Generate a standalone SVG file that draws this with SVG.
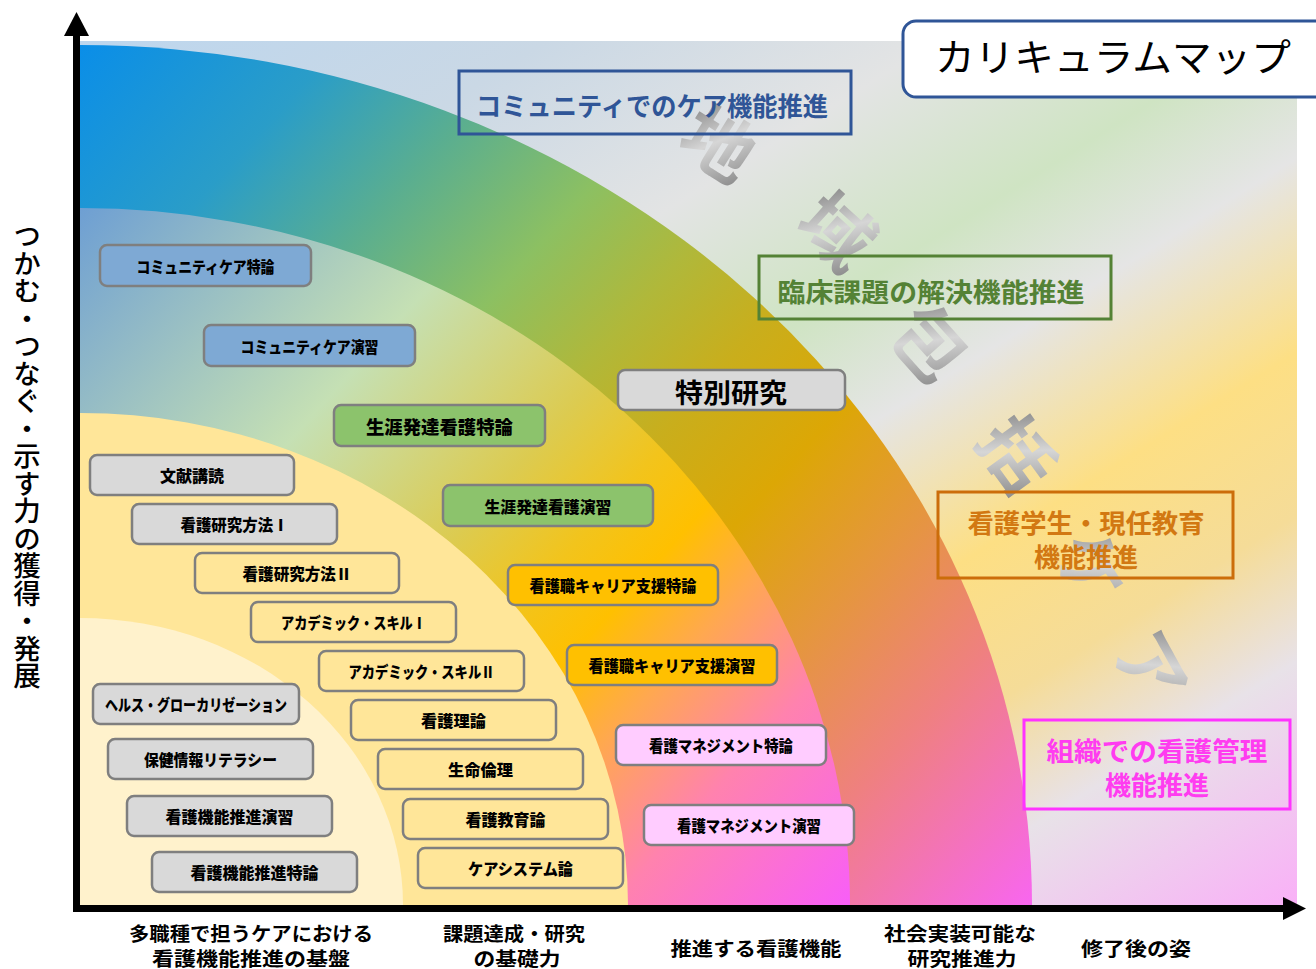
<svg xmlns="http://www.w3.org/2000/svg" width="1316" height="969" viewBox="0 0 1316 969">
<defs>
<linearGradient id="bg" gradientUnits="userSpaceOnUse" x1="80" y1="41" x2="810" y2="1209">
<stop offset="0" stop-color="#bcd6ee"/>
<stop offset="0.18" stop-color="#cad8e5"/>
<stop offset="0.33" stop-color="#e3e4e4"/>
<stop offset="0.45" stop-color="#cfe4c3"/>
<stop offset="0.54" stop-color="#e5e5e5"/>
<stop offset="0.66" stop-color="#fddf84"/>
<stop offset="0.76" stop-color="#f5dc98"/>
<stop offset="0.85" stop-color="#e8e2e8"/>
<stop offset="1" stop-color="#f9b0f7"/>
</linearGradient>
<linearGradient id="bandA" gradientUnits="userSpaceOnUse" x1="80" y1="45" x2="1032" y2="905">
<stop offset="0" stop-color="#0a8ee8"/>
<stop offset="0.15" stop-color="#2a9dc8"/>
<stop offset="0.26" stop-color="#5aae90"/>
<stop offset="0.37" stop-color="#8cc062"/>
<stop offset="0.46" stop-color="#b0b83a"/>
<stop offset="0.54" stop-color="#c9ae1c"/>
<stop offset="0.63" stop-color="#dca705"/>
<stop offset="0.73" stop-color="#e5963e"/>
<stop offset="0.84" stop-color="#ef8080"/>
<stop offset="1" stop-color="#f866f0"/>
</linearGradient>
<linearGradient id="bandB" gradientUnits="userSpaceOnUse" x1="80" y1="208" x2="850" y2="905">
<stop offset="0" stop-color="#6e9fd3"/>
<stop offset="0.3" stop-color="#c5e0b4"/>
<stop offset="0.48" stop-color="#dccb50"/>
<stop offset="0.57" stop-color="#f2c41c"/>
<stop offset="0.64" stop-color="#ffc000"/>
<stop offset="0.72" stop-color="#ffa850"/>
<stop offset="0.83" stop-color="#ff82ae"/>
<stop offset="1" stop-color="#f85ef8"/>
</linearGradient>
<linearGradient id="metal" x1="0" y1="0" x2="1" y2="1">
<stop offset="0" stop-color="#6c6c6c"/>
<stop offset="0.5" stop-color="#d6d6d6"/>
<stop offset="1" stop-color="#7a7a7a"/>
</linearGradient>
<style>
.course rect{stroke:#7f7f7f;stroke-width:2.5;}
.course text{font-family:"Noto Sans CJK JP","Noto Sans CJK SC",sans-serif;font-weight:900;font-size:16px;fill:#000;text-anchor:middle;dominant-baseline:central;}
.blue{fill:#7ea9d4;}
.green{fill:#8cc36c;}
.gray{fill:#d9d9d9;}
.yellow{fill:#ffe699;}
.orange{fill:#ffc000;}
.pink{fill:#ffccff;}
.cat rect{fill:none;stroke-width:3;}
.cat text{font-family:"Noto Sans CJK JP","Noto Sans CJK SC",sans-serif;font-weight:700;font-size:26px;text-anchor:middle;dominant-baseline:central;}
.wm{font-family:"Noto Sans CJK JP","Noto Sans CJK SC",sans-serif;font-weight:700;font-size:72px;fill:url(#metal);text-anchor:middle;dominant-baseline:central;}
.xl{font-family:"Noto Sans CJK JP","Noto Sans CJK SC",sans-serif;font-weight:700;font-size:19px;fill:#000;text-anchor:middle;dominant-baseline:central;}
</style>
</defs>

<g id="background">
<rect x="80" y="41" width="1217" height="864" fill="url(#bg)"/>
<path d="M80,905 L80,45 A952,860 0 0 1 1032,905 Z" fill="url(#bandA)"/>
<path d="M80,905 L80,208 A770,697 0 0 1 850,905 Z" fill="url(#bandB)"/>
<path d="M80,905 L80,413 A548,492 0 0 1 628,905 Z" fill="#ffe699"/>
<path d="M80,905 L80,618 A323,287 0 0 1 403,905 Z" fill="#fff2cc"/>
</g>

<g id="watermark">
<text class="wm" transform="translate(721,140) rotate(32)">地</text>
<text class="wm" transform="translate(840,228) rotate(42)">域</text>
<text class="wm" transform="translate(933,340) rotate(48)">包</text>
<text class="wm" transform="translate(1021,451) rotate(54)">括</text>
<text class="wm" transform="translate(1095,565) rotate(58)">ケ</text>
<text class="wm" transform="translate(1155,665) rotate(61)">ア</text>
</g>

<g id="cat-community" class="cat">
<rect x="459" y="71" width="392" height="63" stroke="#2f5597"/>
<text x="652" y="104" fill="#2f5597" textLength="352" lengthAdjust="spacingAndGlyphs">コミュニティでのケア機能推進</text>
</g>
<g id="cat-clinical" class="cat">
<rect x="759" y="256" width="352" height="63" stroke="#548235"/>
<text x="931" y="290" fill="#548235" textLength="307" lengthAdjust="spacingAndGlyphs">臨床課題の解決機能推進</text>
</g>
<g id="cat-education" class="cat">
<rect x="938" y="492" width="295" height="86" stroke="#cc6d0a"/>
<text x="1086" y="521" fill="#d27812" textLength="237" lengthAdjust="spacingAndGlyphs">看護学生・現任教育</text>
<text x="1086" y="555" fill="#d27812">機能推進</text>
</g>
<g id="cat-management" class="cat">
<rect x="1024" y="720" width="266" height="89" stroke="#ff33ff"/>
<text x="1157" y="749" fill="#ff3cf0" textLength="221" lengthAdjust="spacingAndGlyphs">組織での看護管理</text>
<text x="1157" y="783" fill="#ff3cf0">機能推進</text>
</g>

<g id="title">
<rect x="903" y="21" width="430" height="76" rx="13" fill="#ffffff" stroke="#2f5597" stroke-width="3"/>
<text x="935" y="71" font-family="'Noto Sans CJK JP','Noto Sans CJK SC',sans-serif" font-weight="400" font-size="38" fill="#000" textLength="356" lengthAdjust="spacingAndGlyphs">カリキュラムマップ</text>
</g>

<g id="special-research" class="course">
<rect x="618" y="370" width="227" height="40" rx="7" class="gray"/>
<text x="731" y="391" style="font-size:27px;font-weight:700" textLength="112" lengthAdjust="spacingAndGlyphs">特別研究</text>
</g>

<g id="c1" class="course"><rect x="100" y="245" width="211" height="41" rx="7" class="blue"/><text x="205.5" y="265.5" textLength="138" lengthAdjust="spacingAndGlyphs">コミュニティケア特論</text></g>
<g id="c2" class="course"><rect x="204" y="325" width="211" height="41" rx="7" class="blue"/><text x="309.5" y="345.5" textLength="138" lengthAdjust="spacingAndGlyphs">コミュニティケア演習</text></g>
<g id="c3" class="course"><rect x="334" y="405" width="211" height="41" rx="7" class="green"/><text x="439.5" y="426" style="font-size:18.5px" textLength="147" lengthAdjust="spacingAndGlyphs">生涯発達看護特論</text></g>
<g id="c4" class="course"><rect x="90" y="455" width="204" height="40" rx="7" class="gray"/><text x="192" y="475" textLength="64" lengthAdjust="spacingAndGlyphs">文献講読</text></g>
<g id="c5" class="course"><rect x="132" y="504" width="205" height="40" rx="7" class="gray"/><text x="234.5" y="524" textLength="108" lengthAdjust="spacingAndGlyphs">看護研究方法Ⅰ</text></g>
<g id="c6" class="course"><rect x="195" y="553" width="204" height="40" rx="7" class="yellow"/><text x="297" y="573" textLength="109" lengthAdjust="spacingAndGlyphs">看護研究方法Ⅱ</text></g>
<g id="c7" class="course"><rect x="251" y="602" width="205" height="40" rx="7" class="yellow"/><text x="353.5" y="622" textLength="145" lengthAdjust="spacingAndGlyphs">アカデミック・スキルⅠ</text></g>
<g id="c8" class="course"><rect x="319" y="651" width="205" height="40" rx="7" class="yellow"/><text x="421.5" y="671" textLength="146" lengthAdjust="spacingAndGlyphs">アカデミック・スキルⅡ</text></g>
<g id="c9" class="course"><rect x="93" y="684" width="206" height="40" rx="7" class="gray"/><text x="196" y="704" textLength="182" lengthAdjust="spacingAndGlyphs">ヘルス・グローカリゼーション</text></g>
<g id="c10" class="course"><rect x="108" y="739" width="205" height="40" rx="7" class="gray"/><text x="210.5" y="759" textLength="133" lengthAdjust="spacingAndGlyphs">保健情報リテラシー</text></g>
<g id="c11" class="course"><rect x="127" y="796" width="205" height="40" rx="7" class="gray"/><text x="229.5" y="816" textLength="128" lengthAdjust="spacingAndGlyphs">看護機能推進演習</text></g>
<g id="c12" class="course"><rect x="152" y="852" width="205" height="40" rx="7" class="gray"/><text x="254.5" y="872" textLength="128" lengthAdjust="spacingAndGlyphs">看護機能推進特論</text></g>
<g id="c13" class="course"><rect x="351" y="700" width="205" height="40" rx="7" class="yellow"/><text x="453.5" y="720" textLength="65" lengthAdjust="spacingAndGlyphs">看護理論</text></g>
<g id="c14" class="course"><rect x="378" y="749" width="205" height="40" rx="7" class="yellow"/><text x="480.5" y="769" textLength="65" lengthAdjust="spacingAndGlyphs">生命倫理</text></g>
<g id="c15" class="course"><rect x="403" y="799" width="205" height="40" rx="7" class="yellow"/><text x="505.5" y="819" textLength="80" lengthAdjust="spacingAndGlyphs">看護教育論</text></g>
<g id="c16" class="course"><rect x="418" y="848" width="205" height="40" rx="7" class="yellow"/><text x="520.5" y="868" textLength="105" lengthAdjust="spacingAndGlyphs">ケアシステム論</text></g>
<g id="c17" class="course"><rect x="443" y="485" width="210" height="41" rx="7" class="green"/><text x="548" y="505.5" textLength="127" lengthAdjust="spacingAndGlyphs">生涯発達看護演習</text></g>
<g id="c18" class="course"><rect x="508" y="565" width="210" height="40" rx="7" class="orange"/><text x="613" y="585" textLength="167" lengthAdjust="spacingAndGlyphs">看護職キャリア支援特論</text></g>
<g id="c19" class="course"><rect x="567" y="645" width="210" height="40" rx="7" class="orange"/><text x="672" y="665" textLength="167" lengthAdjust="spacingAndGlyphs">看護職キャリア支援演習</text></g>
<g id="c20" class="course"><rect x="616" y="725" width="210" height="40" rx="7" class="pink"/><text x="721" y="745" textLength="144" lengthAdjust="spacingAndGlyphs">看護マネジメント特論</text></g>
<g id="c21" class="course"><rect x="644" y="805" width="210" height="40" rx="7" class="pink"/><text x="749" y="825" textLength="144" lengthAdjust="spacingAndGlyphs">看護マネジメント演習</text></g>

<g id="connectors">
<line x1="76.5" y1="34" x2="76.5" y2="912" stroke="#000" stroke-width="7"/>
<polygon points="64,36 76.5,12 89,36" fill="#000"/>
<line x1="73" y1="908.5" x2="1285" y2="908.5" stroke="#000" stroke-width="7"/>
<polygon points="1283,897 1306,908.5 1283,920" fill="#000"/>
</g>

<g id="y-label">
<text x="27" y="222" font-family="'Noto Sans CJK JP','Noto Sans CJK SC',sans-serif" font-weight="500" font-size="27.5" fill="#000" style="writing-mode:vertical-rl">つかむ・つなぐ・示す力の獲得・発展</text>
</g>

<g id="x-labels">
<text class="xl" x="251" y="932" textLength="244" lengthAdjust="spacingAndGlyphs">多職種で担うケアにおける</text>
<text class="xl" x="251" y="957" textLength="198" lengthAdjust="spacingAndGlyphs">看護機能推進の基盤</text>
<text class="xl" x="514" y="932" textLength="142" lengthAdjust="spacingAndGlyphs">課題達成・研究</text>
<text class="xl" x="517" y="957" textLength="87" lengthAdjust="spacingAndGlyphs">の基礎力</text>
<text class="xl" x="756" y="947" textLength="171" lengthAdjust="spacingAndGlyphs">推進する看護機能</text>
<text class="xl" x="960" y="932" textLength="152" lengthAdjust="spacingAndGlyphs">社会実装可能な</text>
<text class="xl" x="962" y="957" textLength="109" lengthAdjust="spacingAndGlyphs">研究推進力</text>
<text class="xl" x="1136" y="947" textLength="110" lengthAdjust="spacingAndGlyphs">修了後の姿</text>
</g>
</svg>
